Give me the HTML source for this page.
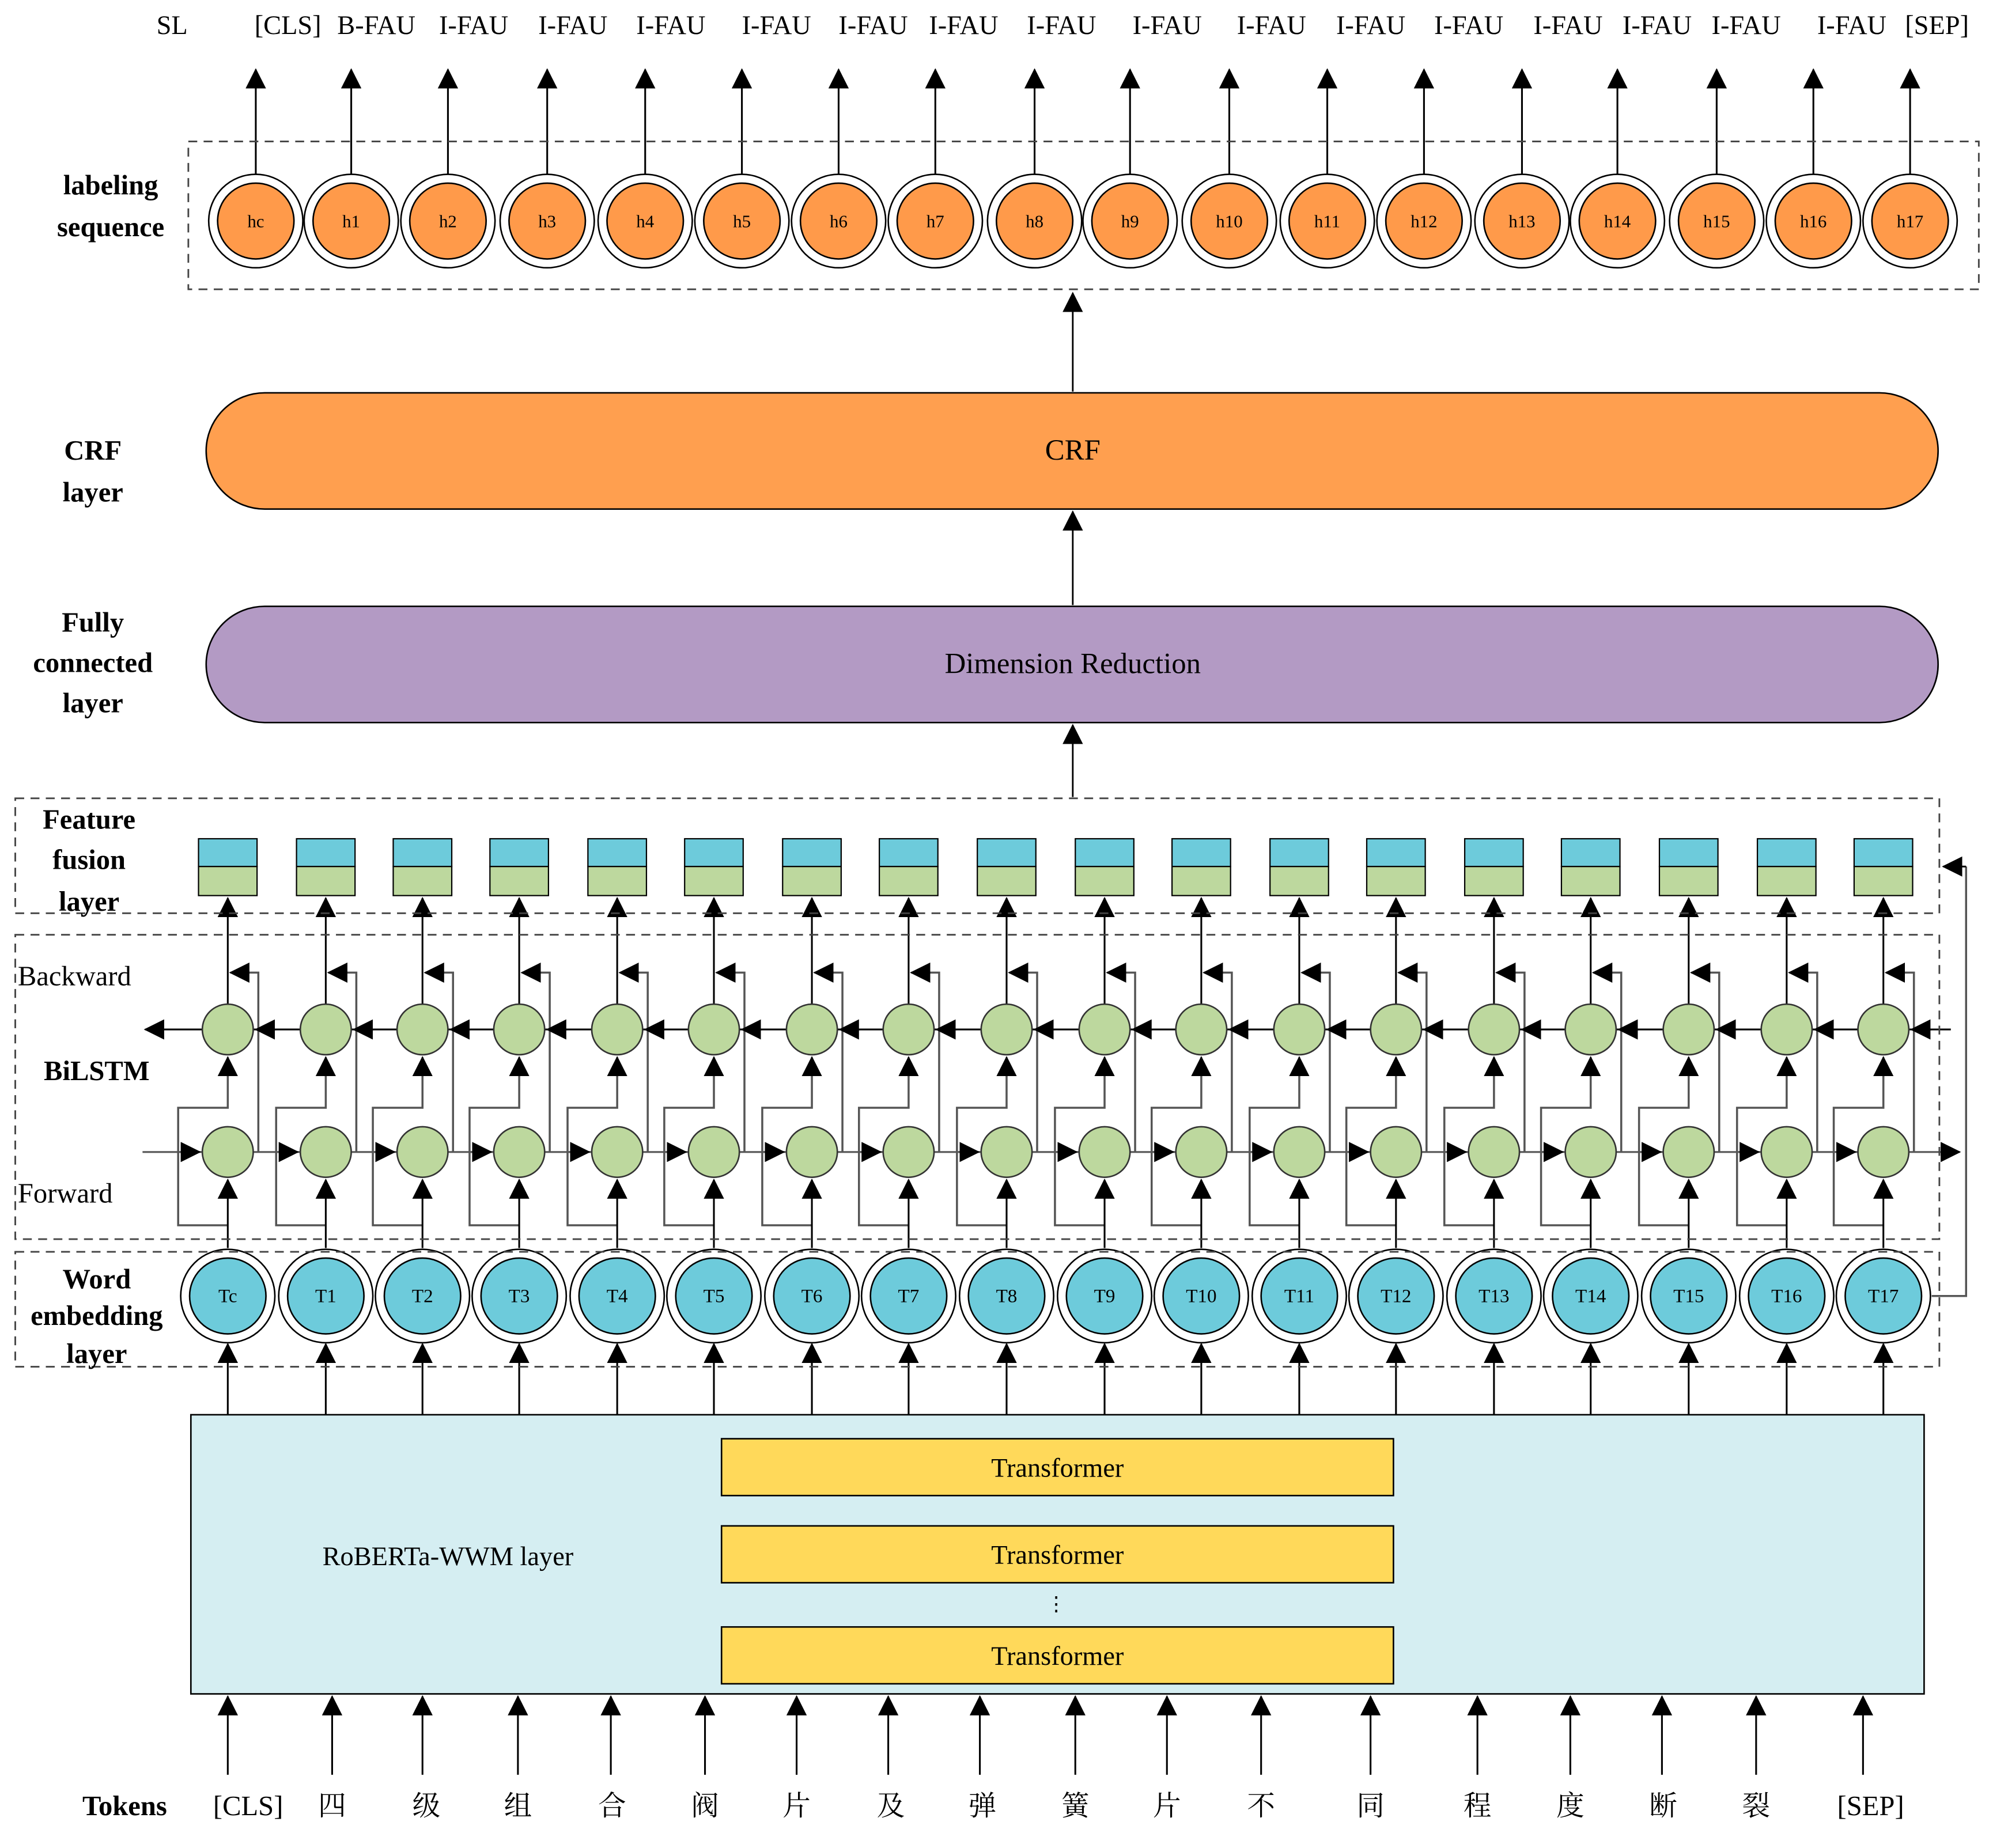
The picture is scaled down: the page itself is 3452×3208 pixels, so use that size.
<!DOCTYPE html>
<html><head><meta charset="utf-8">
<style>
html,body{margin:0;padding:0;background:#fff;}
svg{display:block;}
text{font-family:"Liberation Serif","Noto Serif CJK SC","Noto Sans CJK SC",serif;fill:#000;}
.b{font-weight:bold;}
</style></head>
<body>
<svg id="s" width="3452" height="3208" viewBox="0 0 1563 1463" preserveAspectRatio="none" xmlns="http://www.w3.org/2000/svg">
<defs>
<marker id="a" markerWidth="10" markerHeight="10" refX="9" refY="5" orient="auto" markerUnits="userSpaceOnUse"><path d="M0,0 L10,5 L0,10 z" fill="#000"/></marker>
<marker id="al" markerWidth="16" markerHeight="16" refX="15" refY="8" orient="auto" markerUnits="userSpaceOnUse"><path d="M0,0 L16,8 L0,16 z" fill="#000"/></marker>
</defs>
<g id="shapes"></g>
<!-- dashed boxes -->
<g fill="none" stroke="#444" stroke-width="1.3" stroke-dasharray="7,5">
<rect x="148" y="112" width="1407" height="117"/>
<rect x="12" y="632" width="1512" height="91"/>
<rect x="12" y="740" width="1512" height="241"/>
<rect x="12" y="991" width="1512" height="91"/>
</g>
<!-- pills -->
<rect x="162" y="311" width="1361" height="92" rx="46" fill="#FF9F4F" stroke="#000" stroke-width="1.2"/>
<text x="843" y="364" font-size="23" text-anchor="middle">CRF</text>
<rect x="162" y="480" width="1361" height="92" rx="46" fill="#B39AC4" stroke="#000" stroke-width="1.2"/>
<text x="843" y="533" font-size="23" text-anchor="middle">Dimension Reduction</text>
<g stroke="#000" stroke-width="1.3">
<line x1="843" y1="310" x2="843" y2="232" marker-end="url(#al)"/>
<line x1="843" y1="479" x2="843" y2="405" marker-end="url(#al)"/>
<line x1="843" y1="631" x2="843" y2="574" marker-end="url(#al)"/>
</g>
<!-- RoBERTa -->
<rect x="150" y="1120" width="1362" height="221" fill="#D5EEF2" stroke="#000" stroke-width="1.2"/>
<text x="352" y="1239" font-size="21" text-anchor="middle">RoBERTa-WWM layer</text>
<g fill="#FFD95A" stroke="#000" stroke-width="1.2">
<rect x="567" y="1139" width="528" height="45"/>
<rect x="567" y="1208" width="528" height="45"/>
<rect x="567" y="1288" width="528" height="45"/>
</g>
<text x="831" y="1169" font-size="21" text-anchor="middle">Transformer</text>
<text x="831" y="1238" font-size="21" text-anchor="middle">Transformer</text>
<text x="831" y="1318" font-size="21" text-anchor="middle">Transformer</text>
<text x="830" y="1275" font-size="16" text-anchor="middle">⋮</text>
<!-- left labels -->
<g font-size="22" class="b" text-anchor="middle">
<text class="b" x="87" y="154">labeling</text><text class="b" x="87" y="187">sequence</text>
<text class="b" x="73" y="364">CRF</text><text class="b" x="73" y="397">layer</text>
<text class="b" x="73" y="500">Fully</text><text class="b" x="73" y="532">connected</text><text class="b" x="73" y="564">layer</text>
<text class="b" x="70" y="656">Feature</text><text class="b" x="70" y="688">fusion</text><text class="b" x="70" y="721">layer</text>
<text class="b" x="76" y="855">BiLSTM</text>
<text class="b" x="76" y="1020">Word</text><text class="b" x="76" y="1049">embedding</text><text class="b" x="76" y="1079">layer</text>
<text class="b" x="98" y="1437">Tokens</text>
</g>
<text x="14" y="780" font-size="22">Backward</text>
<text x="14" y="952" font-size="22">Forward</text>
<!-- top labels -->
<g font-size="21">
<text x="123" y="27">SL</text>
<text x="200" y="27">[CLS]</text><text x="265" y="27">B-FAU</text><text x="345" y="27">I-FAU</text><text x="423" y="27">I-FAU</text>
<text x="500" y="27">I-FAU</text><text x="583" y="27">I-FAU</text><text x="659" y="27">I-FAU</text><text x="730" y="27">I-FAU</text>
<text x="807" y="27">I-FAU</text><text x="890" y="27">I-FAU</text><text x="972" y="27">I-FAU</text><text x="1050" y="27">I-FAU</text>
<text x="1127" y="27">I-FAU</text><text x="1205" y="27">I-FAU</text><text x="1275" y="27">I-FAU</text><text x="1345" y="27">I-FAU</text>
<text x="1428" y="27">I-FAU</text><text x="1497" y="27">[SEP]</text>
</g>
<!-- circle labels -->
<g font-size="14" text-anchor="middle">
<text x="201" y="180">hc</text><text x="276" y="180">h1</text><text x="352" y="180">h2</text><text x="430" y="180">h3</text>
<text x="507" y="180">h4</text><text x="583" y="180">h5</text><text x="659" y="180">h6</text><text x="735" y="180">h7</text>
<text x="813" y="180">h8</text><text x="888" y="180">h9</text><text x="966" y="180">h10</text><text x="1043" y="180">h11</text>
<text x="1119" y="180">h12</text><text x="1196" y="180">h13</text><text x="1271" y="180">h14</text><text x="1349" y="180">h15</text>
<text x="1425" y="180">h16</text><text x="1501" y="180">h17</text>
</g>
<g id="tl" font-size="15" text-anchor="middle">
<text x="179" y="1031">Tc</text><text x="256" y="1031">T1</text><text x="332" y="1031">T2</text><text x="408" y="1031">T3</text>
<text x="485" y="1031">T4</text><text x="561" y="1031">T5</text><text x="638" y="1031">T6</text><text x="714" y="1031">T7</text>
<text x="791" y="1031">T8</text><text x="868" y="1031">T9</text><text x="944" y="1031">T10</text><text x="1021" y="1031">T11</text>
<text x="1097" y="1031">T12</text><text x="1174" y="1031">T13</text><text x="1250" y="1031">T14</text><text x="1327" y="1031">T15</text>
<text x="1404" y="1031">T16</text><text x="1480" y="1031">T17</text>
</g>
<g font-size="22" text-anchor="middle">
<text x="195" y="1437">[CLS]</text><text x="261" y="1437">四</text><text x="335" y="1437">级</text><text x="407" y="1437">组</text>
<text x="481" y="1437">合</text><text x="554" y="1437">阀</text><text x="626" y="1437">片</text><text x="700" y="1437">及</text>
<text x="772" y="1437">弹</text><text x="845" y="1437">簧</text><text x="917" y="1437">片</text><text x="991" y="1437">不</text>
<text x="1077" y="1437">同</text><text x="1161" y="1437">程</text><text x="1234" y="1437">度</text><text x="1307" y="1437">断</text>
<text x="1380" y="1437">裂</text><text x="1470" y="1437">[SEP]</text>
</g>
</svg>
<script>
(function(){
var g=document.getElementById('shapes'),h='';
var hx=[201,276,352,430,507,583,659,735,813,888,966,1043,1119,1196,1271,1349,1425,1501];
var cx=[179,256,332,408,485,561,638,714,791,868,944,1021,1097,1174,1250,1327,1404,1480];
var tx=[179,261,332,407,480,554,626,698,770,845,917,991,1077,1161,1234,1306,1380,1464];
function L(x1,y1,x2,y2,m,c){return '<line x1="'+x1+'" y1="'+y1+'" x2="'+x2+'" y2="'+y2+'" stroke="'+(c||'#000')+'" stroke-width="1.4"'+(m?' marker-end="url(#al)"':'')+'/>';}
function P(d){return '<path d="'+d+'" fill="none" stroke="#555" stroke-width="1.6"/>';}
h+=L(1533,815,114,815,true);
h+=L(112,912,1540,912,true,'#555');
h+=P('M1518,1026 L1545,1026 L1545,686')+L(1545,686,1527,686,true);
for(var i=0;i<18;i++){
 var x=hx[i];
 h+=L(x,138,x,55,true);
 h+='<circle cx="'+x+'" cy="175" r="37" fill="#fff" stroke="#000" stroke-width="1.2"/><circle cx="'+x+'" cy="175" r="30" fill="#FF9A4A" stroke="#000" stroke-width="1.2"/>';
 var c=cx[i];
 // feature cell
 h+='<rect x="'+(c-23)+'" y="664" width="46" height="22" fill="#6DCBDB" stroke="#000" stroke-width="1"/><rect x="'+(c-23)+'" y="686" width="46" height="23" fill="#BDD89E" stroke="#000" stroke-width="1"/>';
 h+=L(c,795,c,711,true);
 // forward out to feature
 h+=P('M'+(c+24)+',912 L'+(c+24)+',770 L'+(c+4)+',770');
 h+=L(c+10,770,c+2,770,true);
 // backward arrow into circle from right
 h+=L(c+38,815,c+22,815,true);
 // forward arrow into circle from left
 h+=L(c-38,912,c-22,912,true,'#555');
 // bypass
 h+=P('M'+c+',970 L'+(c-39)+',970 L'+(c-39)+',877 L'+c+',877 L'+c+',845');
 h+=L(c,850,c,837,true);
 // input to forward
 h+=L(c,988,c,934,true);
 // roberta to T
 h+=L(c,1120,c,1064,true);
 h+='<circle cx="'+c+'" cy="815" r="20" fill="#BDD89E" stroke="#333" stroke-width="1.2"/>';
 h+='<circle cx="'+c+'" cy="912" r="20" fill="#BDD89E" stroke="#333" stroke-width="1.2"/>';
 h+='<circle cx="'+c+'" cy="1026" r="37" fill="#fff" stroke="#000" stroke-width="1.2"/><circle cx="'+c+'" cy="1026" r="30" fill="#6DCBDB" stroke="#000" stroke-width="1.2"/>';
 h+=L(tx[i],1405,tx[i],1343,true);
}
g.innerHTML=h;
})();
</script>
</body></html>
